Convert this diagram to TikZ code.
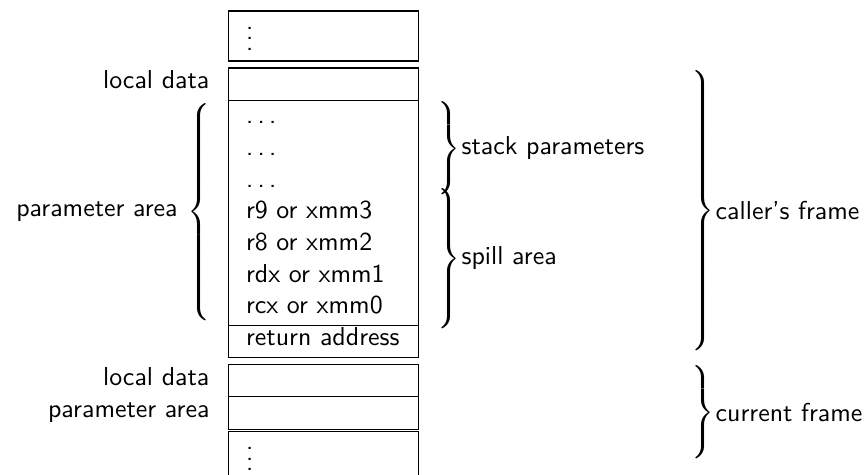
\documentclass[tikz,border=0pt]{standalone}
\usepackage{amsmath}
\usetikzlibrary{positioning}
\newcommand{\RBrace}[1]{\ensuremath{\left.\vrule height \dimexpr #1pt/2+2.5pt\relax depth \dimexpr #1pt/2-2.5pt\relax width 0pt\right\}}}
\newcommand{\LBrace}[1]{\ensuremath{\left\{\vrule height \dimexpr #1pt/2+2.5pt\relax depth \dimexpr #1pt/2-2.5pt\relax width 0pt\right.}}
\newcommand{\Dots}{.\kern.1667em.\kern.1667em.}

\begin{document}
\delimitershortfall=0pt
\delimiterfactor=1000
\begin{tikzpicture}[x=0.3861pt,y=-0.3861pt,font=\sffamily,node distance=2.7pt,
  cell/.style={draw,outer sep=0pt,inner xsep=6.7pt,inner ysep=0pt,text width=60pt,align=left,text height=8pt,text depth=4.5pt},
  dotcell/.style={cell,text height=15.1pt,text depth=4.2pt},
  brace/.style={inner sep=0pt},
  tag/.style={inner sep=0pt}]
\useasboundingbox (0,0) rectangle (868,475);
\clip (0,0) rectangle (868,475);

\node [dotcell,anchor=north west] (top) at (228.7,11) {$\vdots$};
\node [cell,below=of top] (ld) {};
\node [cell,below=0pt of ld,text height=9.07pt,text depth=77.7pt,font=\sffamily\fontsize{10}{12.23}\selectfont] (pa)
  {\Dots\\ \Dots\\ \Dots\\ r9 or xmm3\\ r8 or xmm2\\ rdx or xmm1\\ rcx or xmm0};
\node [cell,below=0pt of pa] (ra) {return address};
\node [cell,below=of ra] (ld2) {};
\node [cell,below=0pt of ld2] (pa2) {};
\node [dotcell,below=0.8pt of pa2] (bot) {$\vdots$};

\node [base left=3.9pt of ld] (t1) {local data};
\node [base left=3.9pt of ld2] (t2) {local data};
\node [base left=3.9pt of pa2] (t3) {parameter area};

\node [brace,anchor=east] (b1) at (214,212) {\LBrace{81}};
\node [left=0pt of b1] (t4) {parameter area};

\node [brace,anchor=west] (b2) at (434,148.5) {\RBrace{35.4}};
\node [tag,right=0pt of b2] (t5) {stack parameters};
\node [brace,anchor=west] (b3) at (434,258.5) {\RBrace{48.3}};
\node [tag,right=0pt of b3] (t6) {spill area};

\node [brace,anchor=west] (b4) at (688,210.5) {\RBrace{106.5}};
\node [tag,right=0pt of b4] (t7) {caller’s frame};
\node [brace,anchor=west] (b5) at (688,412.5) {\RBrace{34.4}};
\node [tag,right=0pt of b5] (t8) {current frame};
\end{tikzpicture}
\end{document}
